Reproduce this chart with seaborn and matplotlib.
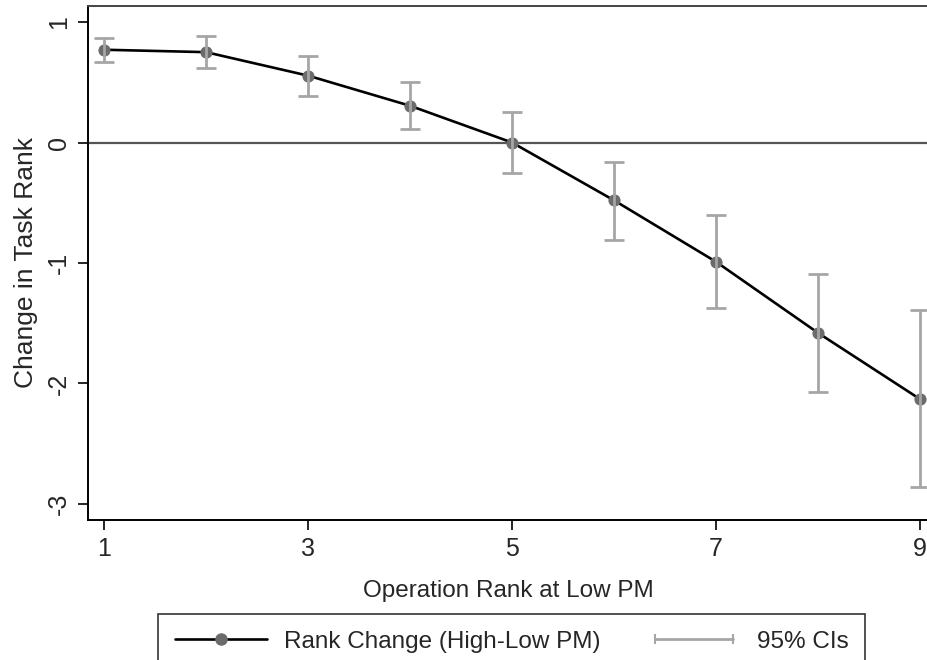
import matplotlib
matplotlib.use("Agg")
import matplotlib.pyplot as plt
import seaborn as sns
import pandas as pd
from matplotlib.lines import Line2D
from matplotlib.legend_handler import HandlerLine2D

# Rank change estimates by operation rank, with 95% confidence bounds
operation_rank = [1, 2, 3, 4, 5, 6, 7, 8, 9]
rank_change = [0.77, 0.75, 0.555, 0.305, 0.0, -0.48, -0.99, -1.58, -2.13]
ci_upper = [0.87, 0.88, 0.72, 0.50, 0.25, -0.16, -0.60, -1.09, -1.39]
ci_lower = [0.67, 0.62, 0.39, 0.115, -0.25, -0.81, -1.37, -2.07, -2.86]

x_ticks = [1, 3, 5, 7, 9]
y_ticks = [1, 0, -1, -2, -3]

df = pd.DataFrame({"rank": operation_rank, "change": rank_change,
                   "lo": ci_lower, "hi": ci_upper})

sns.set_theme(style="white")
plt.rcParams["font.family"] = ["Liberation Sans", "DejaVu Sans"]

fig = plt.figure(figsize=(9.28, 6.6), dpi=100)
ax = fig.add_axes([88 / 928, 1 - 520 / 660, 1 - 88 / 928, (520 - 6) / 660])

ax.axhline(0, color="#555555", lw=1.6, zorder=1)

sns.lineplot(data=df, x="rank", y="change", ax=ax, color="black", lw=1.9,
             marker="o", markersize=8, markerfacecolor="#6b6b6b",
             markeredgecolor="#6b6b6b", zorder=3)

ax.errorbar(df["rank"], df["change"],
            yerr=[df["change"] - df["lo"], df["hi"] - df["change"]],
            fmt="none", ecolor="#a6a6a6", elinewidth=2.0, capsize=7,
            capthick=2.0, zorder=4)

ax.set_xlim(0.843, 9.078)
ax.set_ylim(-3.133, 1.133)
ax.set_xticks(x_ticks)
ax.set_yticks(y_ticks)
ax.set_yticklabels([str(v) for v in y_ticks], rotation=90, va="center")
ax.tick_params(axis="both", which="major", direction="out", length=7,
               width=1.2, color="black", labelsize=18, pad=5,
               bottom=True, left=True)
ax.tick_params(axis="x", pad=5)

for s in ax.spines.values():
    s.set_color("black")
    s.set_linewidth(1.4)
ax.spines["top"].set_color("#444444")

ax.set_xlabel("Operation Rank at Low PM", fontsize=17.5, labelpad=14)
ax.set_ylabel("Change in Task Rank", fontsize=19, labelpad=7)

h_est = Line2D([], [], color="black", lw=1.9, marker="o", markersize=8,
               markerfacecolor="#6b6b6b", markeredgecolor="#6b6b6b")
h_ci = Line2D([], [], color="#a6a6a6", lw=2.0, marker="|", markersize=7,
              markeredgewidth=1.5)
leg = fig.legend([h_est, h_ci], ["Rank Change (High-Low PM)", "95% CIs"],
                 loc="upper left", bbox_to_anchor=(158 / 928, 1 - 614 / 660),
                 borderaxespad=0, ncol=2, fontsize=17.5, frameon=True,
                 fancybox=False, edgecolor="black", handlelength=3.8,
                 handletextpad=0.7, columnspacing=1.95, borderpad=0.68,
                 handler_map={h_est: HandlerLine2D(numpoints=1),
                              h_ci: HandlerLine2D(numpoints=2)})
leg.get_frame().set_linewidth(1.2)

fig.savefig("out.png", dpi=100)
